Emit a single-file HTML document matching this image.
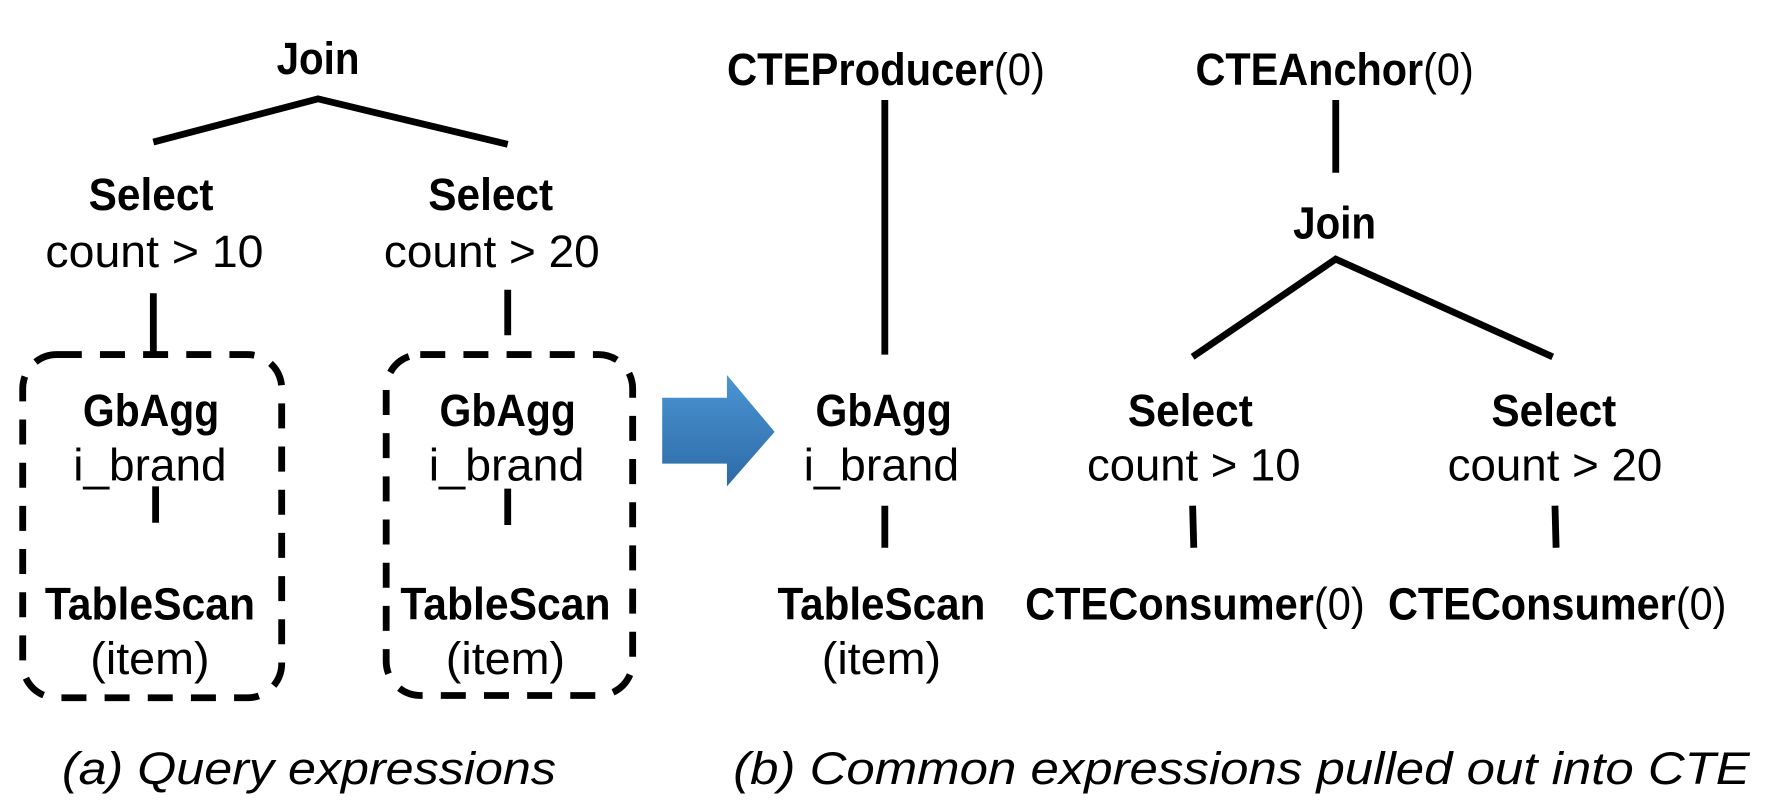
<!DOCTYPE html>
<html><head><meta charset="utf-8"><style>
html,body{margin:0;padding:0;background:#fff;}
svg{display:block;}
text{font-family:"Liberation Sans",sans-serif;font-size:40px;fill:#000;}
.b{font-weight:bold;}
.i{font-style:italic;}
</style></head><body>
<svg width="1781" height="808" viewBox="0 0 1568 711" preserveAspectRatio="none" xmlns="http://www.w3.org/2000/svg">
<defs><linearGradient id="g" x1="0" y1="0" x2="0" y2="1"><stop offset="0" stop-color="#4b95d4"/><stop offset="1" stop-color="#2d6aa6"/></linearGradient></defs>
<g stroke="#000" stroke-width="6" fill="none">
<polyline points="135,125 280,87 447,127"/>
<line x1="135" y1="258" x2="135" y2="312"/>
<line x1="447" y1="255" x2="447" y2="295"/>
<rect x="20" y="312" width="228" height="302" rx="30" stroke-dasharray="22,16"/>
<rect x="340" y="312" width="217" height="300" rx="30" stroke-dasharray="22,16"/>
<line x1="137" y1="428" x2="137" y2="460"/>
<line x1="447" y1="430" x2="447" y2="462"/>
<line x1="779" y1="88" x2="779" y2="312"/>
<line x1="779" y1="445" x2="779" y2="482"/>
<line x1="1176" y1="88" x2="1176" y2="152"/>
<polyline points="1050,314 1176,228 1367,314"/>
<line x1="1050" y1="445" x2="1051" y2="482"/>
<line x1="1369" y1="445" x2="1370" y2="482"/>
</g>
<polygon points="583,350 640,350 640,330 682,380 640,428 640,408 583,408" fill="url(#g)"/>
<g text-anchor="middle">
<text class="b" x="280" y="65" textLength="73" lengthAdjust="spacingAndGlyphs">Join</text>
<text class="b" x="133" y="185" textLength="110" lengthAdjust="spacingAndGlyphs">Select</text>
<text x="136" y="235" textLength="192" lengthAdjust="spacingAndGlyphs">count &gt; 10</text>
<text class="b" x="432" y="185" textLength="110" lengthAdjust="spacingAndGlyphs">Select</text>
<text x="433" y="235" textLength="190" lengthAdjust="spacingAndGlyphs">count &gt; 20</text>
<text class="b" x="133" y="375" textLength="120" lengthAdjust="spacingAndGlyphs">GbAgg</text>
<text x="132" y="423" textLength="135" lengthAdjust="spacingAndGlyphs">i_brand</text>
<text class="b" x="132" y="545" textLength="185" lengthAdjust="spacingAndGlyphs">TableScan</text>
<text x="132" y="593" textLength="105" lengthAdjust="spacingAndGlyphs">(item)</text>
<text class="b" x="447" y="375" textLength="120" lengthAdjust="spacingAndGlyphs">GbAgg</text>
<text x="446" y="423" textLength="137" lengthAdjust="spacingAndGlyphs">i_brand</text>
<text class="b" x="445" y="545" textLength="185" lengthAdjust="spacingAndGlyphs">TableScan</text>
<text x="445" y="593" textLength="105" lengthAdjust="spacingAndGlyphs">(item)</text>
<text x="780" y="75" textLength="280" lengthAdjust="spacingAndGlyphs"><tspan class="b">CTEProducer</tspan>(0)</text>
<text class="b" x="778" y="375" textLength="120" lengthAdjust="spacingAndGlyphs">GbAgg</text>
<text x="776" y="423" textLength="137" lengthAdjust="spacingAndGlyphs">i_brand</text>
<text class="b" x="776" y="545" textLength="183" lengthAdjust="spacingAndGlyphs">TableScan</text>
<text x="776" y="593" textLength="105" lengthAdjust="spacingAndGlyphs">(item)</text>
<text x="1175" y="75" textLength="245" lengthAdjust="spacingAndGlyphs"><tspan class="b">CTEAnchor</tspan>(0)</text>
<text class="b" x="1175" y="210" textLength="73" lengthAdjust="spacingAndGlyphs">Join</text>
<text class="b" x="1048" y="375" textLength="110" lengthAdjust="spacingAndGlyphs">Select</text>
<text x="1051" y="423" textLength="188" lengthAdjust="spacingAndGlyphs">count &gt; 10</text>
<text class="b" x="1368" y="375" textLength="110" lengthAdjust="spacingAndGlyphs">Select</text>
<text x="1369" y="423" textLength="189" lengthAdjust="spacingAndGlyphs">count &gt; 20</text>
<text x="1052" y="545" textLength="299" lengthAdjust="spacingAndGlyphs"><tspan class="b">CTEConsumer</tspan>(0)</text>
<text x="1371" y="545" textLength="298" lengthAdjust="spacingAndGlyphs"><tspan class="b">CTEConsumer</tspan>(0)</text>
<text class="i" x="272" y="690" textLength="435" lengthAdjust="spacingAndGlyphs">(a) Query expressions</text>
<text class="i" x="1093" y="690" textLength="895" lengthAdjust="spacingAndGlyphs">(b) Common expressions pulled out into CTE</text>
</g>
</svg>
</body></html>
